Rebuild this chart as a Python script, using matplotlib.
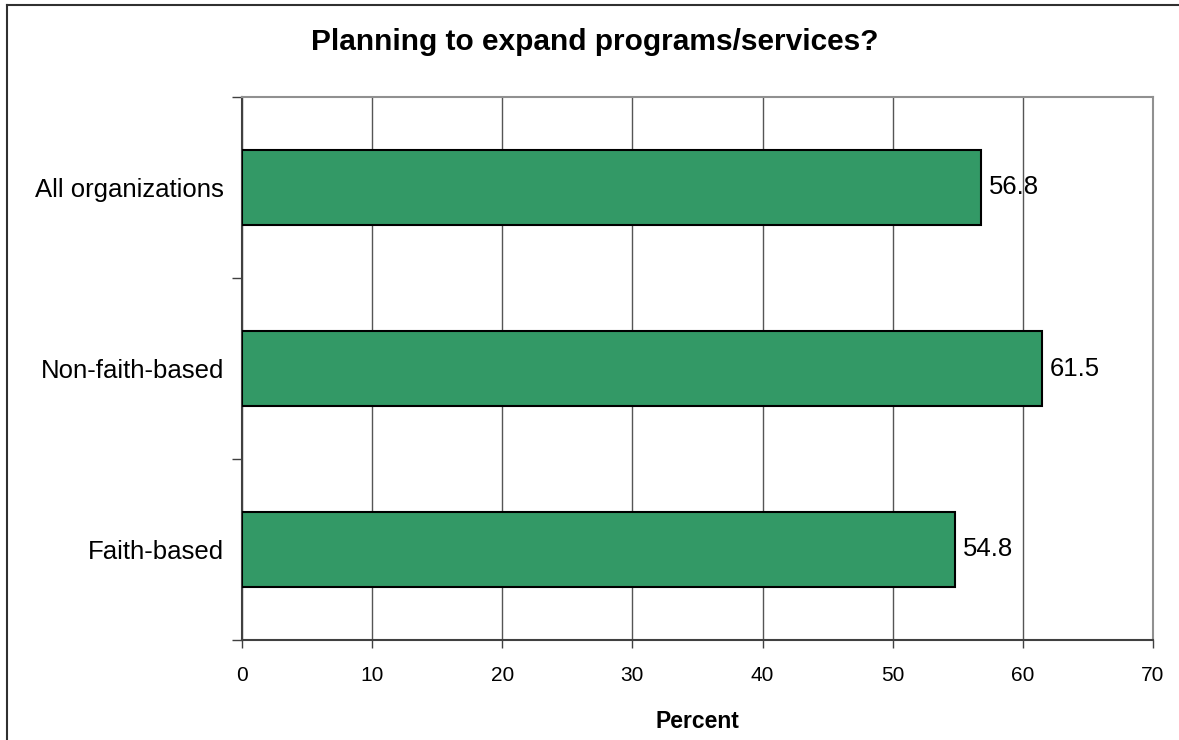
import matplotlib.pyplot as plt
from matplotlib.lines import Line2D

categories = ["Faith-based", "Non-faith-based", "All organizations"]
percents = [54.8, 61.5, 56.8]
x_ticks = [0, 10, 20, 30, 40, 50, 60, 70]

plt.rcParams['font.family'] = ['Liberation Sans', 'DejaVu Sans']

fig = plt.figure(figsize=(11.79, 7.40), dpi=100)
ax = fig.add_axes([242 / 1179, 100 / 740, 911 / 1179, 543 / 740])

pos = list(range(len(categories)))
ax.barh(pos, percents, height=0.41, color="#339966", edgecolor="black", linewidth=1.5, zorder=3)

for p, v in zip(pos, percents):
    ax.text(v + 0.6, p, f"{v:.1f}", va="center", ha="left", fontsize=18.5, zorder=4)

ax.set_xlim(0, 70)
ax.set_ylim(-0.5, 2.5)
ax.set_xticks(x_ticks)
ax.tick_params(axis="x", labelsize=15, length=6, width=1, color="#404040", pad=13)

# category labels in the middle, tick marks on the boundaries
ax.set_yticks(pos)
ax.set_yticklabels(categories, fontsize=18.5)
ax.tick_params(axis="y", which="major", length=0, pad=13)
ax.set_yticks([-0.5, 0.5, 1.5, 2.5], minor=True)
ax.tick_params(axis="y", which="minor", length=7, width=1, color="#404040")

ax.grid(axis="x", color="#555555", linewidth=1, zorder=0)
for s in ["left", "bottom"]:
    ax.spines[s].set_color("#404040")
    ax.spines[s].set_linewidth(1.5)
for s in ["top", "right"]:
    ax.spines[s].set_color("#909090")
    ax.spines[s].set_linewidth(1.5)

ax.set_xlabel("Percent", fontsize=16.5, fontweight="bold", labelpad=18)
fig.text(595 / 1179, 1 - 42 / 740, "Planning to expand programs/services?",
         ha="center", va="center", fontsize=21.5, fontweight="bold")

# outer chart border (only left and top visible in the crop)
fig.add_artist(Line2D([6.5 / 1179, 6.5 / 1179], [0, 1 - 5 / 740], color="#303030", lw=1.5))
fig.add_artist(Line2D([6.5 / 1179, 1], [1 - 5 / 740, 1 - 5 / 740], color="#303030", lw=1.5))

fig.savefig("out.png", dpi=100)
